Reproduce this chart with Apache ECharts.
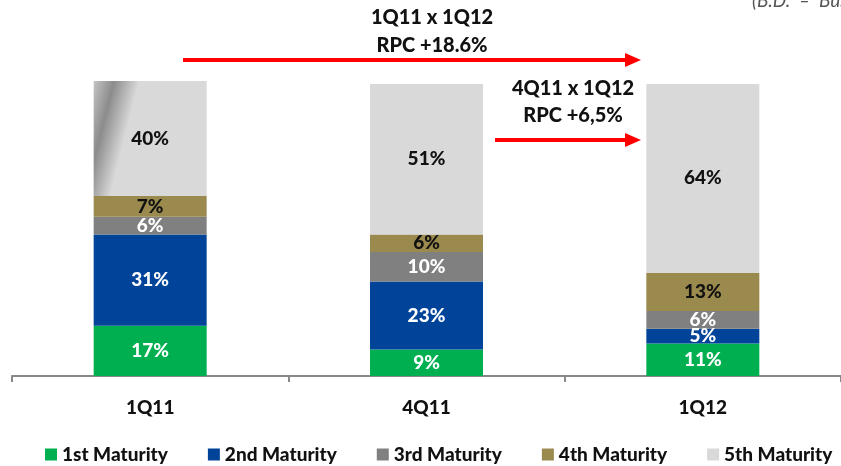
<!DOCTYPE html>
<html>
<head>
<meta charset="utf-8">
<script src="https://cdn.jsdelivr.net/npm/echarts@6/dist/echarts.min.js"></script>
<style>
html,body{margin:0;padding:0;background:#fff;}
#chart{width:841px;height:466px;}
</style>
</head>
<body>
<div id="chart"></div>
<script>
const categories = ['1Q11', '4Q11', '1Q12'];
const seriesNames = ['1st Maturity', '2nd Maturity', '3rd Maturity', '4th Maturity', '5th Maturity'];
const maturity1 = [17, 9, 11];
const maturity2 = [31, 23, 5];
const maturity3 = [6, 10, 6];
const maturity4 = [7, 6, 13];
const maturity5 = [40, 51, 64];
const seriesValues = [maturity1, maturity2, maturity3, maturity4, maturity5];
const colors = ['#00B050', '#00449A', '#808080', '#9A8A4E', '#D9D9D9'];
const labelColors = ['#ffffff', '#ffffff', '#ffffff', '#111111', '#111111'];

const FONT = 'Lato';
const chart = echarts.init(document.getElementById('chart'));

const series = seriesValues.map((vals, i) => ({
  name: seriesNames[i],
  type: 'bar',
  stack: 'total',
  barWidth: 113,
  itemStyle: { color: colors[i] },
  label: {
    show: true,
    position: 'inside',
    formatter: p => p.value + '%',
    color: labelColors[i],
    fontFamily: FONT,
    fontWeight: 900,
    fontSize: 19
  },
  data: vals.map((v, j) => {
    if (i === 4 && j === 0) {
      return {
        value: v,
        itemStyle: {
          color: new echarts.graphic.LinearGradient(0, 0, 1, 0.25, [
            { offset: 0, color: '#c4c4c4' },
            { offset: 0.17, color: '#8c8c8c' },
            { offset: 0.38, color: '#d9d9d9' },
            { offset: 1, color: '#d9d9d9' }
          ])
        }
      };
    }
    return v;
  })
}));

const arrow = (x1, x2, y) => ([
  { type: 'line', shape: { x1: x1, y1: y, x2: x2 - 14, y2: y }, style: { stroke: '#FF0000', lineWidth: 4 } },
  { type: 'polygon', shape: { points: [[x2 - 16, y - 7], [x2, y], [x2 - 16, y + 7]] }, style: { fill: '#FF0000' } }
]);

const txt = (t, x, y) => ({
  type: 'text', x: x, y: y,
  style: { text: t, fill: '#111', font: '900 20px ' + FONT, textAlign: 'center', textVerticalAlign: 'middle' }
});

chart.setOption({
  animation: false,
  color: colors,
  grid: { left: 12, right: -11, top: 81, bottom: 90, containLabel: false },
  xAxis: {
    type: 'category',
    data: categories,
    axisLine: { show: true, lineStyle: { color: '#888', width: 2 } },
    axisTick: { show: true, length: 6, lineStyle: { color: '#888', width: 2 } },
    axisLabel: { color: '#111', fontFamily: FONT, fontWeight: 900, fontSize: 19, margin: 22 }
  },
  yAxis: { type: 'value', min: 0, max: 100, show: false, splitLine: { show: false } },
  legend: {
    data: seriesNames,
    left: 40,
    top: 440,
    width: 1200,
    itemWidth: 12,
    itemHeight: 12,
    itemGap: 40,
    icon: 'rect',
    textStyle: { color: '#111', fontFamily: FONT, fontWeight: 900, fontSize: 19 }
  },
  series: series,
  graphic: [
    ...arrow(183, 641, 60),
    ...arrow(495, 641, 140),
    txt('1Q11 x 1Q12', 432, 18),
    txt('RPC +18.6%', 432, 46),
    txt('4Q11 x 1Q12', 573, 89),
    txt('RPC +6,5%', 573, 116),
    { type: 'text', x: 752, y: 1, style: { text: '(B.D.  –  Business Days)', fill: '#555', font: 'italic 19px ' + FONT, textAlign: 'left', textVerticalAlign: 'middle' } }
  ]
});
</script>
</body>
</html>
